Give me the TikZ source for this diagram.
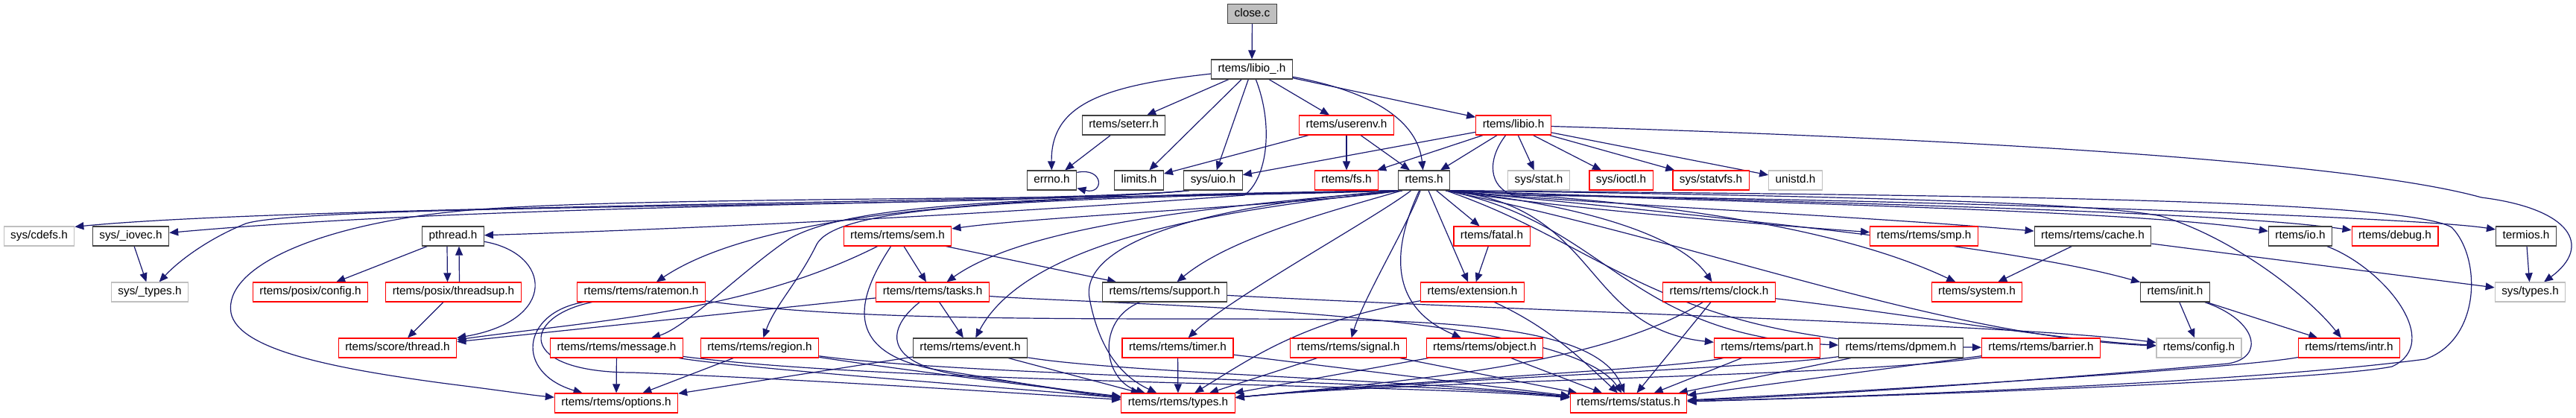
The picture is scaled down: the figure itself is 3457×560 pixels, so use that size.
\documentclass[tikz,border=0pt]{standalone}
\usepackage{fontspec}
\setmainfont{Liberation Sans}
\usetikzlibrary{arrows.meta,calc}
\definecolor{edgeblue}{HTML}{191970}
\definecolor{nodeblack}{HTML}{404040}
\definecolor{nodered}{HTML}{FF0000}
\definecolor{nodegray}{HTML}{BFBFBF}
\pgfdeclarelayer{bg}
\pgfsetlayers{bg,main}
\tikzset{
  base/.style={rectangle, line width=1.2pt, fill=white, minimum height=26pt, inner xsep=9pt, inner ysep=0pt, text height=11pt, text depth=3.5pt, font=\fontsize{15.3pt}{18pt}\selectfont, text=black},
  nb/.style={base, draw=nodeblack},
  nr/.style={base, draw=nodered},
  ng/.style={base, draw=nodegray},
  nf/.style={base, draw=nodeblack, fill=nodegray},
  dep/.style={draw=edgeblue, line width=1.2pt, -{Triangle[length=12pt,width=10pt]}},
}
\begin{document}
\begin{tikzpicture}[x=1pt,y=-1pt]
\useasboundingbox (0,0) rectangle (3457,560);
% row 1-3
\node[nf] (closec) at (1680.5,18.5) {close.c};
\node[nb] (libiou) at (1680,93) {rtems/libio\_.h};
\node[nb] (seterr) at (1508,168) {rtems/seterr.h};
\node[nr] (userenv) at (1807,168) {rtems/userenv.h};
\node[nr] (libio) at (2031,168) {rtems/libio.h};
% row 4
\node[nb] (errno) at (1411.5,242) {errno.h};
\node[nb] (limits) at (1528.5,242) {limits.h};
\node[nb] (sysuio) at (1628,242) {sys/uio.h};
\node[nr] (fs) at (1807,242) {rtems/fs.h};
\node[nb] (rtemsh) at (1911,242) {rtems.h};
\node[ng] (sysstat) at (2065,242) {sys/stat.h};
\node[nr] (ioctl) at (2175.5,242) {sys/ioctl.h};
\node[nr] (statvfs) at (2296,242) {sys/statvfs.h};
\node[ng] (unistd) at (2409.5,242) {unistd.h};
% row 5
\node[ng] (cdefs) at (52.5,317) {sys/cdefs.h};
\node[nb] (iovec) at (175.5,317) {sys/\_iovec.h};
\node[nb] (pthread) at (608,317) {pthread.h};
\node[nr] (sem) at (1204.5,317) {rtems/rtems/sem.h};
\node[nr] (fatal) at (2002,317) {rtems/fatal.h};
\node[nr] (smp) at (2582,317) {rtems/rtems/smp.h};
\node[nb] (cache) at (2808.5,317) {rtems/rtems/cache.h};
\node[nb] (io) at (3087,317) {rtems/io.h};
\node[nr] (debug) at (3214,317) {rtems/debug.h};
\node[nb] (termios) at (3390,317) {termios.h};
% row 6
\node[ng] (systypesu) at (201,392) {sys/\_types.h};
\node[nr] (pconfig) at (416.5,392) {rtems/posix/config.h};
\node[nr] (threadsup) at (608.5,392) {rtems/posix/threadsup.h};
\node[nr] (ratemon) at (860.5,392) {rtems/rtems/ratemon.h};
\node[nr] (tasks) at (1251.5,392) {rtems/rtems/tasks.h};
\node[nb] (support) at (1563,392) {rtems/rtems/support.h};
\node[nr] (extension) at (1976,392) {rtems/extension.h};
\node[nr] (clock) at (2307,392) {rtems/rtems/clock.h};
\node[nr] (system) at (2653,392) {rtems/system.h};
\node[nb] (init) at (2919,392) {rtems/init.h};
\node[ng] (systypes) at (3395.5,392) {sys/types.h};
% row 7
\node[nr] (scorethread) at (533.5,467) {rtems/score/thread.h};
\node[nr] (message) at (827.5,467) {rtems/rtems/message.h};
\node[nr] (region) at (1019.5,467) {rtems/rtems/region.h};
\node[nb] (event) at (1302,467) {rtems/rtems/event.h};
\node[nr] (timer) at (1580.5,467) {rtems/rtems/timer.h};
\node[nr] (signal) at (1809.5,467) {rtems/rtems/signal.h};
\node[nr] (object) at (1992.5,467) {rtems/rtems/object.h};
\node[nr] (part) at (2371.5,467) {rtems/rtems/part.h};
\node[nb] (dpmem) at (2551,467) {rtems/rtems/dpmem.h};
\node[nr] (barrier) at (2739,467) {rtems/rtems/barrier.h};
\node[ng] (config) at (2951,467) {rtems/config.h};
\node[nr] (intr) at (3152.5,467) {rtems/rtems/intr.h};
% row 8
\node[nr] (options) at (827,541) {rtems/rtems/options.h};
\node[nr] (types) at (1581,541) {rtems/rtems/types.h};
\node[nr] (status) at (2185.5,541) {rtems/rtems/status.h};
% helper coordinates on borders
\coordinate (rtsw) at ($(rtemsh.south west)+(6,0)$);
\coordinate (rtse) at ($(rtemsh.south east)+(-6,0)$);
\coordinate (uiosw) at ($(sysuio.south west)+(8,0)$);
\begin{pgfonlayer}{bg}
% top part
\draw[dep] (closec) -- (libiou);
\draw[dep] (libiou) .. controls (1480,115) and (1410,140) .. (errno);
\draw[dep] (libiou) -- (seterr);
\draw[dep] (libiou) -- (limits);
\draw[dep] (libiou) -- (sysuio);
\draw[dep] (libiou) .. controls (1710,170) and (1700,240) .. (1670,262) .. controls (1300,290) and (900,308) .. (pthread);
\draw[dep] (libiou) -- (userenv);
\draw[dep] (libiou) .. controls (1880,130) and (1905,185) .. (rtemsh);
\draw[dep] (libiou) -- (libio);
\draw[dep] (seterr) -- (errno);
\draw[dep] ($(errno.north east)+(0,3)$) .. controls (1482,224) and (1482,262) .. ($(errno.south east)+(0,-3)$);
\draw[dep] (userenv) -- (limits);
\draw[dep] (userenv) -- (fs);
\draw[dep] (userenv) -- (rtemsh);
\draw[dep] (libio) -- (sysuio);
\draw[dep] (libio) -- (fs);
\draw[dep] (libio) -- (rtemsh);
\draw[dep] (libio) -- (sysstat);
\draw[dep] (libio) -- (ioctl);
\draw[dep] (libio) -- (statvfs);
\draw[dep] (libio) -- (unistd);
\draw[dep] (libio) .. controls (2600,185) and (3150,215) .. (3330,265) .. controls (3450,280) and (3480,330) .. (systypes);
\draw[dep] (libio) .. controls (1995,215) and (1998,250) .. (2030,262) .. controls (2600,268) and (3250,292) .. ($(termios.west)+(0,-9)$);
% sys/uio
\draw[dep] (uiosw) .. controls (1450,272) and (400,275) .. ($(cdefs.north east)+(0,1)$);
\draw[dep] (uiosw) .. controls (1400,276) and (700,270) .. (iovec);
\draw[dep] (uiosw) .. controls (1350,280) and (420,272) .. (330,300) .. controls (280,320) and (240,350) .. (systypesu);
\draw[dep] (iovec) -- (systypesu);
% pthread cluster
\draw[dep] (pthread) -- (pconfig);
\draw[dep] ($(pthread.south)+(-8,0)$) -- ($(threadsup.north)+(-8,0)$);
\draw[dep] ($(threadsup.north)+(8,0)$) -- ($(pthread.south)+(8,0)$);
\draw[dep] (pthread) .. controls (740,340) and (750,430) .. (scorethread);
\draw[dep] (threadsup) -- (scorethread);
% rtems.h to the left
\draw[dep] (rtsw) .. controls (1500,270) and (800,262) .. (600,285) .. controls (420,305) and (300,360) .. (310,420) .. controls (320,470) and (450,495) .. (600,515) .. controls (680,525) and (710,530) .. (options);
\draw[dep] (rtsw) .. controls (1500,262) and (1050,265) .. (ratemon);
\draw[dep] (rtsw) .. controls (1400,265) and (1150,270) .. (1060,320) .. controls (1000,360) and (920,440) .. (message);
\draw[dep] (rtsw) .. controls (1400,268) and (1120,272) .. (1095,330) .. controls (1070,380) and (1040,410) .. (region);
\draw[dep] (rtsw) .. controls (1750,275) and (1400,290) .. (sem);
\draw[dep] (rtsw) .. controls (1650,275) and (1380,300) .. (tasks);
\draw[dep] (rtsw) .. controls (1650,280) and (1380,320) .. (event);
\draw[dep] (rtsw) .. controls (1780,285) and (1650,320) .. (support);
\draw[dep] (rtsw) .. controls (1600,275) and (1450,330) .. (1462,400) .. controls (1475,470) and (1505,505) .. (types);
% rtems.h downwards
\draw[dep] (rtemsh) .. controls (1850,290) and (1650,400) .. (timer);
\draw[dep] (rtemsh) .. controls (1890,300) and (1830,400) .. (signal);
\draw[dep] (rtemsh) .. controls (1870,330) and (1860,410) .. (object);
\draw[dep] (rtemsh) -- (extension);
\draw[dep] (rtemsh) -- (fatal);
% rtems.h to the right
\draw[dep] (rtse) .. controls (2100,280) and (2350,300) .. (smp);
\draw[dep] (rtse) .. controls (2150,275) and (2500,290) .. (cache);
\draw[dep] (rtse) .. controls (2300,272) and (2850,280) .. (io);
\draw[dep] (rtse) .. controls (2300,270) and (2950,280) .. (debug);
\draw[dep] (rtse) .. controls (2250,270) and (2480,310) .. (system);
\draw[dep] (rtse) .. controls (2100,272) and (2250,310) .. (clock);
\draw[dep] (rtse) .. controls (2150,275) and (2120,440) .. (part);
\draw[dep] (rtse) .. controls (2160,300) and (2180,450) .. (dpmem);
\draw[dep] (rtse) .. controls (2170,335) and (2230,462) .. (barrier);
\draw[dep] (rtse) .. controls (2300,330) and (2600,450) .. (config);
\draw[dep] (rtse) .. controls (2300,290) and (2700,330) .. (init);
\draw[dep] (rtse) .. controls (2400,262) and (2800,270) .. (2900,290) .. controls (3000,320) and (3100,400) .. (intr);
\draw[dep] (rtse) .. controls (2600,262) and (3220,266) .. (3290,305) .. controls (3330,345) and (3330,455) .. (3255,482) .. controls (3000,515) and (2500,532) .. (status);
% middle modules
\draw[dep] (ratemon) .. controls (700,420) and (690,500) .. (options);
\draw[dep] (ratemon) .. controls (700,425) and (690,500) .. (850,500) .. controls (1100,510) and (1400,530) .. (types);
\draw[dep] (ratemon) .. controls (1100,425) and (1300,428) .. (1600,428) .. controls (1900,428) and (2140,428) .. (status);
\draw[dep] (message) -- (options);
\draw[dep] (message) .. controls (1000,495) and (1350,520) .. (types);
\draw[dep] (message) .. controls (1200,515) and (1900,515) .. (status);
\draw[dep] (region) -- (options);
\draw[dep] (region) .. controls (1200,495) and (1400,520) .. (types);
\draw[dep] (region) .. controls (1300,505) and (1900,512) .. (status);
\draw[dep] (event) -- (options);
\draw[dep] (event) -- (types);
\draw[dep] (event) .. controls (1500,500) and (1900,510) .. (status);
\draw[dep] (sem) -- (tasks);
\draw[dep] (sem) -- (support);
\draw[dep] (sem) .. controls (1000,420) and (800,430) .. (scorethread);
\draw[dep] (sem) .. controls (1150,400) and (1130,470) .. (1250,495) .. controls (1380,515) and (1460,530) .. (types);
\draw[dep] (tasks) -- (scorethread);
\draw[dep] (tasks) -- (event);
\draw[dep] (tasks) .. controls (1190,440) and (1180,490) .. (1300,505) .. controls (1400,518) and (1460,528) .. (types);
\draw[dep] (tasks) .. controls (1500,410) and (2100,415) .. (status);
\draw[dep] (support) .. controls (1470,430) and (1480,510) .. (types);
\draw[dep] (support) .. controls (2100,420) and (2700,435) .. (config);
\draw[dep] (fatal) -- (extension);
\draw[dep] (extension) .. controls (1750,430) and (1680,480) .. (types);
\draw[dep] (extension) .. controls (2080,440) and (2120,480) .. (status);
\draw[dep] (timer) -- (types);
\draw[dep] (timer) -- (status);
\draw[dep] (signal) -- (types);
\draw[dep] (signal) -- (status);
\draw[dep] (object) -- (types);
\draw[dep] (object) -- (status);
\draw[dep] (clock) .. controls (2150,490) and (1900,510) .. (types);
\draw[dep] (clock) -- (status);
\draw[dep] (clock) .. controls (2550,420) and (2750,455) .. (config);
\draw[dep] (part) .. controls (2250,495) and (1900,510) .. (types);
\draw[dep] (part) -- (status);
\draw[dep] (dpmem) .. controls (2350,495) and (1900,510) .. (types);
\draw[dep] (dpmem) -- (status);
\draw[dep] (barrier) .. controls (2500,505) and (1900,510) .. (types);
\draw[dep] (barrier) -- (status);
% right side
\draw[dep] (init) -- (config);
\draw[dep] (init) -- (intr);
\draw[dep] (init) .. controls (3030,430) and (3040,480) .. (2990,488) .. controls (2800,505) and (2500,528) .. (status);
\draw[dep] (intr) .. controls (3000,495) and (2500,525) .. (status);
\draw[dep] (io) .. controls (3200,360) and (3280,460) .. (3210,492) .. controls (3120,510) and (2600,530) .. (status);
\draw[dep] (cache) -- (system);
\draw[dep] (cache) -- (systypes);
\draw[dep] (termios) -- (systypes);
\end{pgfonlayer}
\end{tikzpicture}
\end{document}
